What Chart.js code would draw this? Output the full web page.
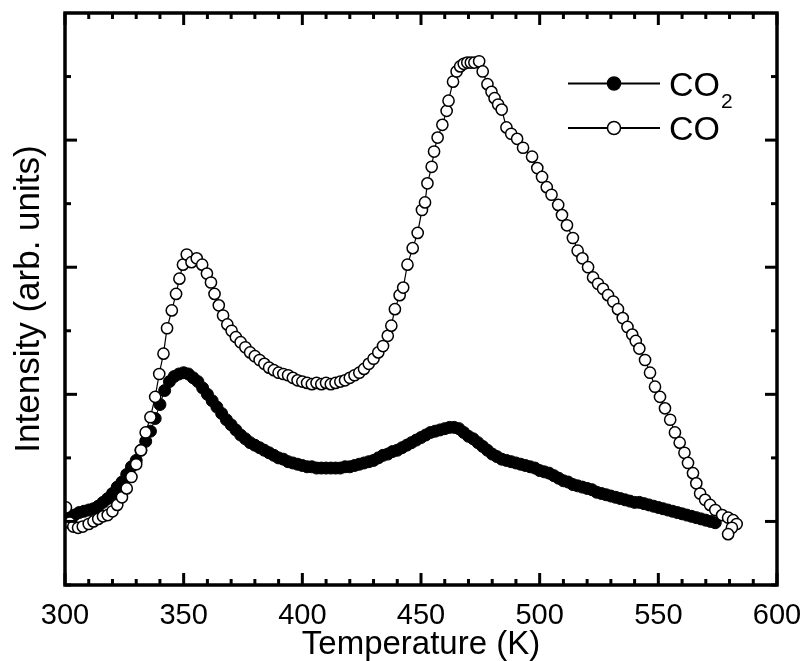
<!DOCTYPE html>
<html>
<head>
<meta charset="utf-8">
<title>TPD spectra</title>
<script src="https://cdn.jsdelivr.net/npm/chart.js@4.4.0/dist/chart.umd.min.js"></script>
<style>
  html, body { margin: 0; padding: 0; background: #fff; }
  #wrap { width: 803px; height: 661px; }
</style>
</head>
<body>
<div id="wrap"><canvas id="tpd" width="803" height="661"></canvas></div>
<script>
// ============================================
// DATA
// ============================================
const co2Temp = [302, 304, 306, 308, 310, 312, 314, 316, 318, 320, 322, 324, 326, 328, 330, 332, 334, 336, 338, 340,
  342, 344, 346, 348, 350, 352, 354, 356, 358, 360, 362, 364, 366, 368, 370, 372, 374, 376, 378, 380,
  382, 384, 386, 388, 390, 392, 394, 396, 398, 400, 402, 404, 406, 408, 410, 412, 414, 416, 418, 420,
  422, 424, 426, 428, 430, 432, 434, 436, 438, 440, 442, 444, 446, 448, 450, 452, 454, 456, 458, 460,
  462, 464, 466, 468, 470, 472, 474, 476, 478, 480, 482, 484, 486, 488, 490, 492, 494, 496, 498, 500,
  502, 504, 506, 508, 510, 512, 514, 516, 518, 520, 522, 524, 526, 528, 530, 532, 534, 536, 538, 540,
  542, 544, 546, 548, 550, 552, 554, 556, 558, 560, 562, 564, 566, 568, 570, 572, 574];
const co2Int = [0.03, 0.05, 0.07, 0.08, 0.09, 0.10, 0.12, 0.15, 0.18, 0.22, 0.27, 0.31, 0.37, 0.43, 0.48, 0.56, 0.63, 0.71, 0.81, 0.92,
  1.03, 1.10, 1.14, 1.16, 1.17, 1.16, 1.13, 1.10, 1.05, 1.00, 0.95, 0.90, 0.85, 0.80, 0.76, 0.72, 0.68, 0.65, 0.62, 0.60,
  0.58, 0.56, 0.54, 0.52, 0.50, 0.49, 0.47, 0.46, 0.45, 0.44, 0.43, 0.43, 0.42, 0.42, 0.42, 0.42, 0.42, 0.42, 0.43, 0.43,
  0.44, 0.45, 0.46, 0.47, 0.48, 0.50, 0.52, 0.53, 0.55, 0.56, 0.58, 0.60, 0.62, 0.64, 0.66, 0.68, 0.70, 0.71, 0.72, 0.73,
  0.74, 0.74, 0.73, 0.70, 0.67, 0.65, 0.62, 0.59, 0.56, 0.53, 0.51, 0.49, 0.48, 0.47, 0.46, 0.45, 0.44, 0.43, 0.42, 0.40,
  0.39, 0.38, 0.36, 0.34, 0.32, 0.31, 0.29, 0.28, 0.27, 0.26, 0.25, 0.23, 0.22, 0.21, 0.20, 0.19, 0.18, 0.17, 0.16, 0.15,
  0.15, 0.14, 0.13, 0.12, 0.11, 0.10, 0.09, 0.08, 0.07, 0.06, 0.05, 0.04, 0.03, 0.02, 0.01, 0.00, -0.01];

const coTemp = [300.4, 302, 303.5, 305.5, 307.5, 310, 312, 314, 316, 318, 320, 322, 324, 326, 328, 330, 332, 334, 336, 338,
  339.7, 341.5, 343, 345, 346.8, 348.2, 349.7, 351.3, 353.3, 355.5, 357.8, 359.8, 361.5, 363, 364.8, 366.6, 368.4, 370.2, 372, 374,
  376, 378, 380, 382, 384, 386, 388, 390, 392, 394, 396, 398, 400, 402, 404, 406, 408, 410, 412, 414,
  416, 418, 420, 422, 424, 426, 428, 430, 432, 434, 436, 437.5, 439, 441, 442.5, 444.3, 446.5, 448.6, 450.4, 451.7,
  452.7, 454.5, 455.5, 457, 459, 460.8, 461.6, 463.5, 465, 466.5, 468, 469.5, 471, 472.5, 474.5, 476, 478, 479.7, 481, 482.5,
  484, 486, 488, 490.5, 493, 496.8, 499, 501, 503, 505, 507.8, 509.4, 511.5, 514, 516, 518, 520.4, 522.5, 524.6, 526.7,
  528.8, 531, 533, 535, 537, 539, 540.5, 542, 544.4, 546.5, 548.6, 550.7, 552.8, 555, 557, 559, 561, 562.5, 564.6, 566,
  567.6, 569.7, 571.8, 574, 576.9, 579.4, 581.5, 583, 581, 579.4];
const coInt = [0.11, -0.01, -0.04, -0.05, -0.04, -0.02, 0.00, 0.02, 0.04, 0.05, 0.08, 0.13, 0.19, 0.26, 0.35, 0.45, 0.56, 0.70, 0.82, 0.98,
  1.16, 1.32, 1.52, 1.66, 1.79, 1.91, 2.02, 2.10, 2.04, 2.07, 2.02, 1.95, 1.88, 1.79, 1.70, 1.62, 1.55, 1.50, 1.45, 1.41,
  1.37, 1.33, 1.30, 1.27, 1.24, 1.21, 1.19, 1.17, 1.16, 1.15, 1.13, 1.11, 1.10, 1.09, 1.08, 1.09, 1.08, 1.09, 1.08, 1.09,
  1.10, 1.11, 1.13, 1.15, 1.17, 1.20, 1.24, 1.28, 1.33, 1.38, 1.46, 1.54, 1.67, 1.78, 1.84, 2.02, 2.15, 2.27, 2.45, 2.51,
  2.66, 2.79, 2.91, 3.02, 3.12, 3.23, 3.31, 3.46, 3.54, 3.58, 3.60, 3.61, 3.61, 3.61, 3.62, 3.54, 3.44, 3.38, 3.33, 3.28,
  3.24, 3.10, 3.05, 3.01, 2.94, 2.87, 2.78, 2.71, 2.63, 2.57, 2.49, 2.41, 2.33, 2.23, 2.13, 2.07, 2.00, 1.92, 1.87, 1.83,
  1.78, 1.73, 1.67, 1.60, 1.53, 1.47, 1.42, 1.36, 1.27, 1.17, 1.06, 0.98, 0.89, 0.80, 0.70, 0.62, 0.54, 0.46, 0.38, 0.30,
  0.22, 0.17, 0.13, 0.09, 0.05, 0.03, 0.01, -0.02, -0.05, -0.10];

const xTicks = [300, 350, 400, 450, 500, 550, 600];
const xMinorTicks = [310, 320, 330, 340, 360, 370, 380, 390, 410, 420, 430, 440, 460, 470, 480, 490, 510, 520, 530, 540, 560, 570, 580, 590];
const yMajorTicks = [0, 1, 2, 3];
const yMinorTicks = [-0.5, 0.5, 1.5, 2.5, 3.5];
const seriesNames = ['CO2', 'CO'];

const FONT = "'Liberation Sans', Arial, sans-serif";

function toPoints(xs, ys) {
  return xs.map((t, i) => ({ x: t, y: ys[i] }));
}

// ============================================
// FRAME + INWARD TICKS (drawn from the scales)
// ============================================
const frameTicks = {
  id: 'frameTicks',
  afterDatasetsDraw(chart) {
    const { ctx, chartArea: a, scales: { x, y } } = chart;
    ctx.save();
    ctx.strokeStyle = '#000';
    ctx.lineCap = 'butt';

    const seg = (x1, y1, x2, y2) => {
      ctx.beginPath();
      ctx.moveTo(x1, y1);
      ctx.lineTo(x2, y2);
      ctx.stroke();
    };

    ctx.lineWidth = 3;
    xTicks.forEach(t => {
      const px = x.getPixelForValue(t);
      seg(px, a.bottom, px, a.bottom - 12);
      seg(px, a.top, px, a.top + 12);
    });
    xMinorTicks.forEach(t => {
      const px = x.getPixelForValue(t);
      seg(px, a.bottom, px, a.bottom - 6);
      seg(px, a.top, px, a.top + 6);
    });
    yMajorTicks.forEach(v => {
      const py = y.getPixelForValue(v);
      seg(a.left, py, a.left + 12, py);
      seg(a.right, py, a.right - 12, py);
    });
    yMinorTicks.forEach(v => {
      const py = y.getPixelForValue(v);
      seg(a.left, py, a.left + 6, py);
      seg(a.right, py, a.right - 6, py);
    });

    ctx.lineWidth = 3.5;
    ctx.strokeRect(a.left, a.top, a.width, a.height);
    ctx.restore();
  }
};

// ============================================
// LEGEND (line + marker, subscript on CO2)
// ============================================
const lineLegend = {
  id: 'lineLegend',
  afterDraw(chart) {
    const { ctx } = chart;
    const rows = [
      { name: seriesNames[0], y: 83.5, fill: '#000' },
      { name: seriesNames[1], y: 128, fill: '#fff' }
    ];
    ctx.save();
    rows.forEach(r => {
      ctx.strokeStyle = '#000';
      ctx.lineWidth = 1.8;
      ctx.beginPath();
      ctx.moveTo(568, r.y);
      ctx.lineTo(660, r.y);
      ctx.stroke();

      ctx.beginPath();
      ctx.arc(614, r.y, 6.5, 0, Math.PI * 2);
      ctx.fillStyle = r.fill;
      ctx.fill();
      ctx.lineWidth = 1.5;
      ctx.stroke();

      ctx.fillStyle = '#000';
      ctx.textBaseline = 'alphabetic';
      ctx.textAlign = 'left';
      ctx.font = `34px ${FONT}`;
      const main = r.name.replace(/\d+$/, '');
      const sub = r.name.slice(main.length);
      ctx.fillText(main, 669, r.y + 12);
      if (sub) {
        const w = ctx.measureText(main).width;
        ctx.font = `21px ${FONT}`;
        ctx.fillText(sub, 669 + w + 1, r.y + 24);
      }
    });
    ctx.restore();
  }
};

// ============================================
// CHART
// ============================================
new Chart(document.getElementById('tpd'), {
  type: 'scatter',
  data: {
    datasets: [
      {
        label: seriesNames[1],
        data: toPoints(coTemp, coInt),
        showLine: true,
        borderColor: '#000',
        borderWidth: 1.2,
        pointRadius: 5.6,
        pointBorderWidth: 1.5,
        pointBackgroundColor: '#fff',
        pointBorderColor: '#000',
        order: 1
      },
      {
        label: seriesNames[0],
        data: toPoints(co2Temp, co2Int),
        showLine: true,
        borderColor: '#000',
        borderWidth: 1,
        pointRadius: 6,
        pointBorderWidth: 1,
        pointBackgroundColor: '#000',
        pointBorderColor: '#000',
        order: 2
      }
    ]
  },
  options: {
    responsive: false,
    animation: false,
    layout: { padding: { top: 13, right: 26, left: 0, bottom: 0 } },
    plugins: {
      legend: { display: false },
      tooltip: { enabled: false }
    },
    scales: {
      x: {
        type: 'linear',
        min: 300,
        max: 600,
        afterBuildTicks: s => { s.ticks = xTicks.map(v => ({ value: v })); },
        afterFit: s => { s.height = 76; s.paddingLeft = 0; s.paddingRight = 0; },
        grid: { display: false, drawTicks: false },
        border: { display: false },
        ticks: {
          color: '#000',
          padding: 14,
          font: { family: FONT, size: 29 }
        },
        title: {
          display: true,
          text: 'Temperature (K)',
          color: '#000',
          padding: { top: 0, bottom: 0 },
          font: { family: FONT, size: 33, lineHeight: 1 }
        }
      },
      y: {
        type: 'linear',
        min: -0.5,
        max: 4,
        afterFit: s => { s.width = 65; },
        grid: { display: false, drawTicks: false },
        border: { display: false },
        ticks: { display: false },
        title: {
          display: true,
          text: 'Intensity (arb. units)',
          color: '#000',
          padding: { top: 12, bottom: 0 },
          font: { family: FONT, size: 35, lineHeight: 1 }
        }
      }
    }
  },
  plugins: [frameTicks, lineLegend]
});
</script>
</body>
</html>
